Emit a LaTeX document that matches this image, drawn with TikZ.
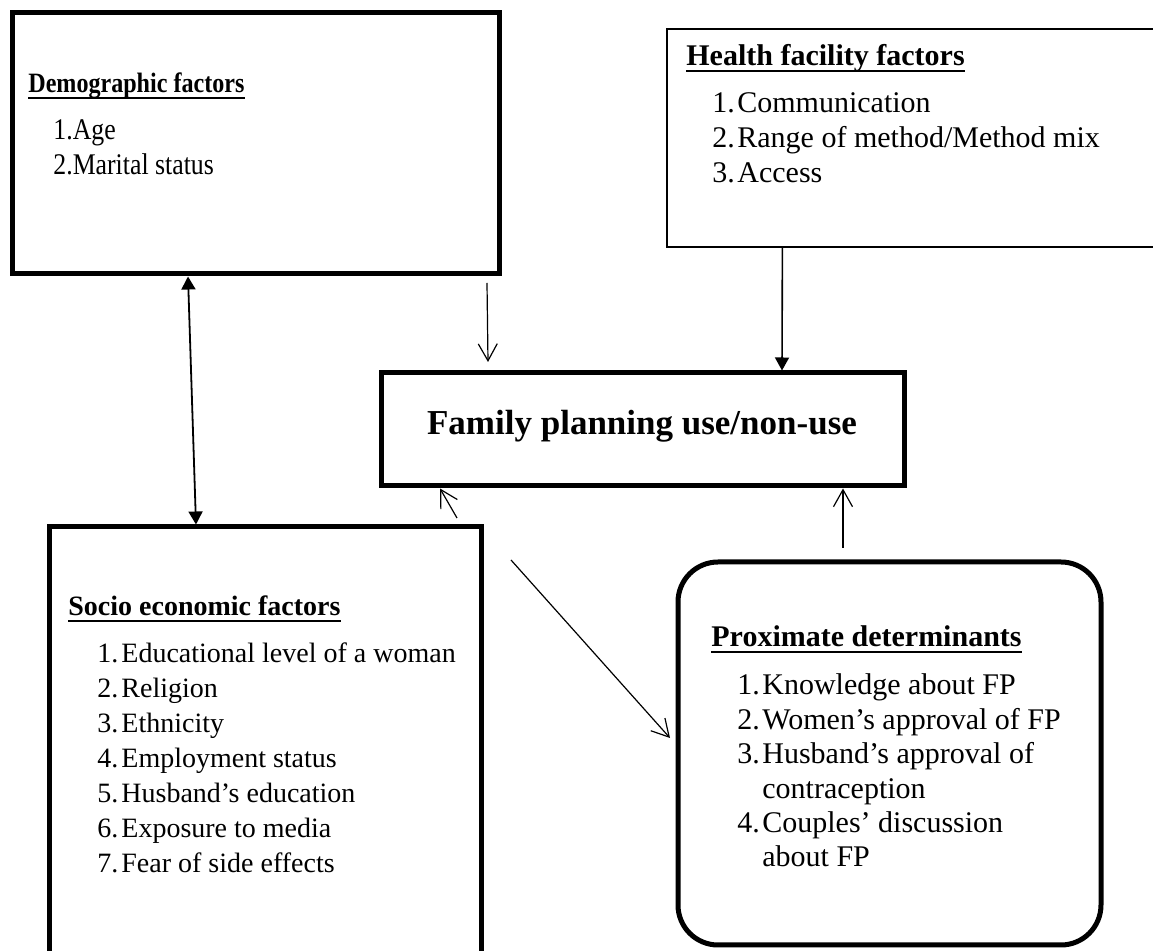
\documentclass[tikz,border=0pt]{standalone}
\usepackage{fontspec}
\setmainfont{Liberation Serif}
\newfontfamily\demofont{Liberation Serif}[FakeStretch=0.86]
\usetikzlibrary{arrows.meta}
\usetikzlibrary{fit}

\begin{document}
\begin{tikzpicture}[x=0.5pt,y=-0.5pt,
  bigbox/.style={draw=black,line width=2.5pt,inner sep=0pt},
  thinbox/.style={draw=black,line width=0.6pt,inner sep=0pt},
  head/.style={anchor=base west,inner sep=0pt,font=\fontsize{#1}{#1}\selectfont\bfseries},
  item/.style={anchor=base west,inner sep=0pt,font=\fontsize{#1}{#1}\selectfont},
  uline/.style={line width=1.1pt},
  link/.style={line width=0.6pt,-{Straight Barb[length=8.5pt,width=9.5pt]}},
  flink/.style={line width=0.8pt,-{Triangle[length=6.5pt,width=7pt]}},
  dlink/.style={line width=0.9pt,{Triangle[length=6.5pt,width=7pt]}-{Triangle[length=6.5pt,width=7pt]}}]
\useasboundingbox (0,0) rectangle (1153,951);
\clip (0,0) rectangle (1153,951);

% boxes
\node[bigbox,fit={(12,12.5) (499,274)}] (demo) {};
\node[thinbox,fit={(667,29) (1170,247)}] (health) {};
\node[bigbox,fit={(381,373) (904,486)}] (fp) {};
\node[bigbox,fit={(49,527) (481,980)}] (socio) {};
\node[bigbox,rounded corners=20pt,fit={(678,562) (1101,945)}] (prox) {};

% titles
\node[head=14,font=\demofont\fontsize{14}{14}\selectfont\bfseries] (dt) at (28,93) {Demographic factors};
\node[head=15] (ht) at (686,66) {Health facility factors};
\node[head=14] (st) at (68,616) {Socio economic factors};
\node[head=15] (pt) at (711,647) {Proximate determinants};
\foreach \n in {dt,ht,st,pt}
  \draw[uline] ([yshift=-2.5pt]\n.base west) -- ([yshift=-2.5pt]\n.base east);
\node[anchor=base,inner sep=0pt,font=\fontsize{17.5}{20}\selectfont\bfseries] (fpt) at (642,435) {Family planning use/non-use};

% items
\foreach \txt [count=\i] in {Age, Marital status}
  \node[item=15,font=\demofont\fontsize{15}{15}\selectfont] (d\i) at (53,105+35*\i) {\i.\txt};
\foreach \txt [count=\i] in {Communication, Range of method/Method mix, Access}
  \node[item=15] (h\i) at (712,78+35*\i) {\makebox[12.5pt][l]{\i.}\txt};
\foreach \txt [count=\i] in {Educational level of a woman, Religion, Ethnicity, Employment status, Husband's education, Exposure to media, Fear of side effects}
  \node[item=14] (s\i) at (97,628+35*\i) {\makebox[12pt][l]{\i.}\txt};
\foreach \lbl/\txt [count=\i] in {1./Knowledge about FP, 2./Women's approval of FP, 3./Husband's approval of, /contraception, 4./Couples' discussion, /about FP}
  \node[item=15] (p\i) at (737,660.6+34.4*\i) {\makebox[12.5pt][l]{\lbl}\txt};

% connectors
\coordinate (dd) at (487,283);
\coordinate (ddtip) at (488,362);
\coordinate (se) at (457,518);
\coordinate (sp) at (511,560);
\coordinate (sptip) at (670,738);
\coordinate (pf) at (843,548);
\draw[dlink] ([xshift=89.25pt]demo.south west) -- ([xshift=74.75pt]socio.north west);
\draw[flink] ([xshift=58pt]health.south west) -- ([xshift=201.75pt]fp.north west);
\draw[link] (dd) -- (ddtip);
\draw[link] (se) -- ([xshift=30.75pt]fp.south west);
\draw[link] (sp) -- (sptip);
\draw[link] (pf) -- ([xshift=232.25pt]fp.south west);
\end{tikzpicture}
\end{document}
